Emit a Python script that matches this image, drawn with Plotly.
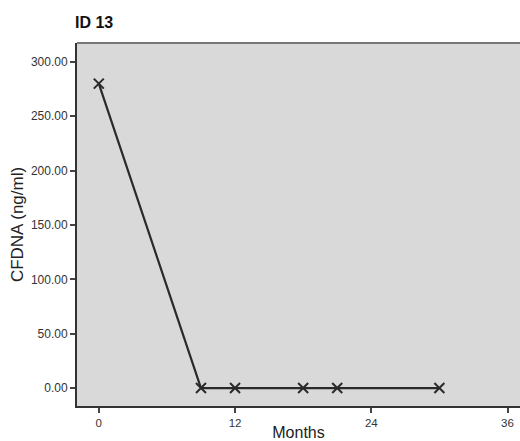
import plotly.graph_objects as go

months = [0, 9, 12, 18, 21, 30]
cfdna = [280.0, 0.0, 0.0, 0.0, 0.0, 0.0]
x_ticks = [0, 12, 24, 36]
y_ticks = [0, 50, 100, 150, 200, 250, 300]
y_tick_labels = ["0.00", "50.00", "100.00", "150.00", "200.00", "250.00", "300.00"]

W, H = 520, 441
fig = go.Figure()
fig.add_trace(go.Scatter(
    x=months, y=cfdna, mode="lines+markers",
    line=dict(color="#2a2a2a", width=2.2),
    marker=dict(symbol="x-thin", size=10, line=dict(color="#2a2a2a", width=2)),
    showlegend=False,
))

fig.update_layout(
    width=W, height=H,
    margin=dict(l=77, r=0, t=43, b=35, autoexpand=False),
    paper_bgcolor="white",
    plot_bgcolor="#d9d9d9",
    font=dict(family="Liberation Sans, Arial, sans-serif", color="#222"),
    title=dict(text="<b>ID 13</b>", x=75/W, xanchor="left", y=1-22.5/H, yanchor="middle",
               font=dict(size=16, color="#111")),
    xaxis=dict(
        range=[-1.92, 37.1], tickvals=x_ticks, ticktext=[str(v) for v in x_ticks],
        showgrid=False, zeroline=False,
        showline=True, linecolor="#333", linewidth=2,
        ticks="outside", ticklen=5, tickwidth=2, tickcolor="#444",
        tickfont=dict(size=11.5, color="#333"),
        title=dict(text="Months", font=dict(size=16, color="#222"), standoff=4),
    ),
    yaxis=dict(
        range=[-16.5, 317.4], tickvals=y_ticks, ticktext=y_tick_labels,
        showgrid=False, zeroline=False,
        showline=True, linecolor="#333", linewidth=2,
        ticks="outside", ticklen=5, tickwidth=2, tickcolor="#444",
        tickfont=dict(size=12, color="#333"),
        title=dict(text="CFDNA (ng/ml)", font=dict(size=17, color="#222"), standoff=3),
    ),
    shapes=[dict(type="line", xref="paper", yref="paper", x0=0, x1=1, y0=1, y1=1,
                 line=dict(color="#777", width=2))],
)

fig.write_html("out.html", config={"displayModeBar": False},
               post_script="document.body.style.margin='0';document.body.style.overflow='hidden';")
